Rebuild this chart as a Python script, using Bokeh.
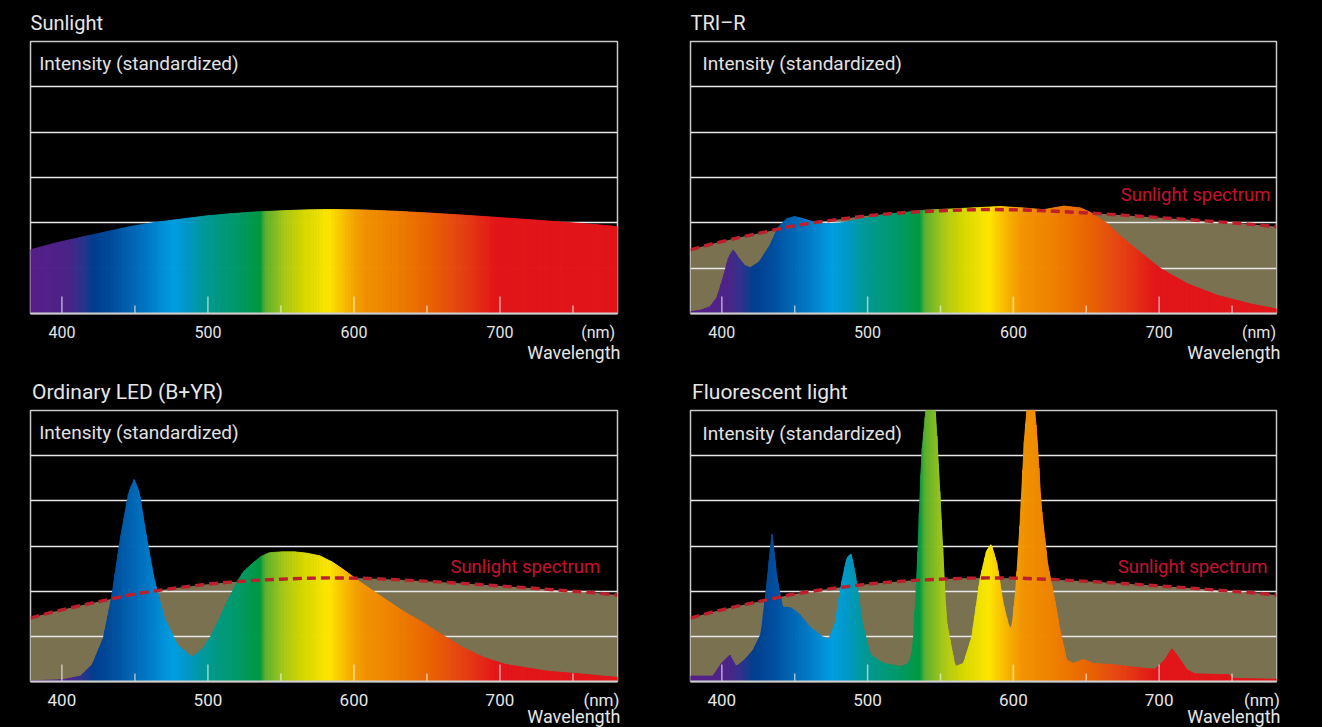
import numpy as np
from bokeh.plotting import figure
from bokeh.models import Range1d, FixedTicker, Label, Title
from bokeh.layouts import column, row
from bokeh.embed import file_html
from bokeh.resources import INLINE

# ---------------- data ----------------
wl_ticks = [400, 500, 600, 700]
wl_minor = [450, 550, 650, 750]
tick_labels = ["400", "500", "600", "700"]
unit_label = "(nm)"

titles = ["Sunlight", "TRI–R", "Ordinary LED (B+YR)", "Fluorescent light"]

sun_nm = [378.5, 395, 412.7, 430, 446.9, 464, 481, 498, 515, 532, 549.5, 566,
          583.7, 606, 629, 652, 675, 698, 720.5, 743, 766, 780.5]
sun_int = [1.405, 1.55, 1.68, 1.80, 1.92, 2.01, 2.08, 2.15, 2.20, 2.24, 2.265, 2.285,
           2.294, 2.285, 2.255, 2.215, 2.17, 2.12, 2.07, 2.015, 1.96, 1.915]

tri_nm = [378.5, 385, 392, 396.8, 401.3, 404.7, 407.8, 411, 415.6, 419.6, 425.7, 433,
          438.7, 444.5, 450, 456, 464.7, 473, 482, 496.5, 516.7, 539.8, 560, 591,
          606, 620.7, 634.7, 646, 653, 664.5, 673, 682.7, 701, 719.4, 740, 762.8, 780.5]
tri_int = [0.04, 0.07, 0.15, 0.36, 0.84, 1.24, 1.405, 1.25, 1.06, 1.01, 1.14, 1.5,
           1.91, 2.09, 2.14, 2.09, 2.0, 1.98, 2.0, 2.09, 2.2, 2.28, 2.31, 2.36,
           2.33, 2.29, 2.37, 2.33, 2.23, 1.98, 1.72, 1.46, 0.99, 0.655, 0.40, 0.21, 0.10]

led_nm = [378.5, 401, 412.7, 421, 428.5, 434, 440, 445.8, 449.5, 453, 457.3, 463,
          470, 479, 489, 496, 502, 507.7, 513.4, 519, 524, 530.7, 536.5, 542, 550,
          559.5, 568, 576.8, 585.4, 594, 602.7, 617, 634, 646, 660, 674.7, 689,
          703.5, 732, 761, 780.5]
led_int = [0.015, 0.04, 0.12, 0.38, 0.97, 1.85, 3.16, 4.19, 4.47, 4.19, 3.31, 2.29,
           1.41, 0.82, 0.54, 0.71, 1.00, 1.38, 1.78, 2.14, 2.42, 2.62, 2.77, 2.85, 2.87,
           2.87, 2.84, 2.78, 2.64, 2.45, 2.24, 1.92, 1.55, 1.33, 1.04, 0.75, 0.53,
           0.38, 0.23, 0.15, 0.09]

flu_nm = [378.5, 394, 399.7, 405.5, 409.8, 415.6, 421.4, 427, 430.6, 434.4, 437.8,
          441.6, 447.4, 453, 460.4, 469, 473.3, 477.7, 482, 485.8, 488.7, 492, 496.4,
          502, 511, 522.4, 528, 531, 534, 537, 543.5, 547, 550, 554, 560, 565.8,
          571.5, 577.3, 581.6, 584.8, 588.8, 593, 597, 599, 601.8, 604.7, 607.6, 612,
          616.3, 619, 623.5, 628, 632, 636.5, 641, 648, 655, 669.7, 684, 697, 704,
          708.7, 713, 719, 724.6, 747.7, 750.6, 780.5]
flu_int = [0.12, 0.12, 0.40, 0.585, 0.33, 0.48, 0.69, 1.06, 2.08, 3.29, 2.30,
           1.65, 1.63, 1.50, 1.21, 0.99, 0.93, 1.28, 2.16, 2.74, 2.83, 2.30, 1.28,
           0.585, 0.40, 0.33, 0.40, 0.69, 2.45, 5.0, 7.2, 5.74, 3.9, 1.35, 0.33, 0.40,
           0.99, 2.30, 2.89, 3.04, 2.60, 1.72, 1.21, 1.17, 2.08, 3.55, 5.38, 7.0,
           5.38, 3.9, 2.6, 1.87, 1.13, 0.48, 0.40, 0.49, 0.40, 0.37, 0.31, 0.27, 0.48,
           0.73, 0.55, 0.26, 0.17, 0.15, 0.07, 0.05]

# ---------------- styles ----------------
XMIN, XMAX = 378.5, 780.5
YMAX = 6
GRID_Y = [1, 2, 3, 4, 5]
BROWN = "#7a7150"
DASH_RED = "#bd1f2c"
LABEL_RED = "#c8102e"
TXT = "#e6e6e6"
FONT = "Roboto"

SPEC_NM = [378, 405, 415, 421.6, 435.4, 458, 476, 488, 497, 506, 520, 536, 539.5,
           551.7, 565, 579, 583.7, 595, 606, 629, 652, 665.8, 679.5, 693, 698, 781]
SPEC_COL = ["#5a1f8b", "#4c2589", "#2a368d", "#023e8f", "#004f9f", "#0078c5", "#009fe3",
            "#0098c2", "#009a9c", "#009a85", "#009a6a", "#009a42", "#5cb030",
            "#a6c81a", "#d5d800", "#f5e400", "#ffe600", "#f8b800", "#f39600",
            "#ef8000", "#ea6500", "#e85010", "#e53a14", "#e41f18", "#e3161a", "#e3161a"]


def hex2rgb(h):
    return [int(h[i:i + 2], 16) for i in (1, 3, 5)]


_rgb = np.array([hex2rgb(c) for c in SPEC_COL], dtype=float)


def color_at(nm):
    r = np.interp(nm, SPEC_NM, _rgb[:, 0])
    g = np.interp(nm, SPEC_NM, _rgb[:, 1])
    b = np.interp(nm, SPEC_NM, _rgb[:, 2])
    return "#%02x%02x%02x" % (int(round(r)), int(round(g)), int(round(b)))


def rainbow_area(p, nm, vals, step=1.0):
    edges = np.arange(XMIN, XMAX + step * 0.5, step)
    if edges[-1] < XMAX:
        edges = np.append(edges, XMAX)
    tops = np.interp(edges, nm, vals)
    xs, ys, cols = [], [], []
    for i in range(len(edges) - 1):
        x0, x1 = edges[i], edges[i + 1]
        xs.append([x0, x1, x1, x0])
        ys.append([0, 0, tops[i + 1], tops[i]])
        cols.append(color_at(0.5 * (x0 + x1)))
    p.patches(xs, ys, fill_color=cols, line_color=cols, line_width=0.9)


def make_panel(idx, width, height, bl, br, bt, bb, spec, show_sun, lay):
    fh = height - bt - bb
    k = YMAX / fh
    p = figure(width=width, height=height, output_backend="svg", toolbar_location=None,
               x_range=Range1d(XMIN, XMAX), y_range=Range1d(0, YMAX),
               min_border_left=bl, min_border_right=br, min_border_top=bt,
               min_border_bottom=bb, background_fill_color="black",
               border_fill_color="black")
    p.outline_line_color = "#c8c8c8"
    p.outline_line_width = 1.5
    p.xgrid.visible = False
    p.ygrid.visible = False
    p.yaxis.visible = False

    # panel title
    p.title.text = titles[idx]
    p.title.align = "left"
    p.title.offset = lay["title_dx"]
    p.title.standoff = lay["title_standoff"]
    p.title.text_font = FONT
    p.title.text_font_style = "normal"
    p.title.text_font_size = lay["title_size"]
    p.title.text_color = TXT

    ax = p.xaxis[0]
    ax.ticker = FixedTicker(ticks=wl_ticks + [lay["nm_pos"]], minor_ticks=[])
    ov = {t: l for t, l in zip(wl_ticks, tick_labels)}
    ov[lay["nm_pos"]] = unit_label
    ax.major_label_overrides = ov
    ax.major_tick_in = 0
    ax.major_tick_out = 0
    ax.minor_tick_in = 0
    ax.minor_tick_out = 0
    ax.major_tick_line_color = None
    ax.minor_tick_line_color = None
    ax.axis_line_color = "#d0d0d0"
    ax.axis_line_width = 2
    ax.major_label_text_color = TXT
    ax.major_label_text_font = FONT
    ax.major_label_text_font_size = lay["tick_size"]
    ax.major_label_standoff = lay["tick_standoff"]

    p.add_layout(Title(text="Wavelength", align="right", vertical_align="top",
                       offset=lay["wl_dx"], standoff=lay["wl_standoff"], text_font=FONT,
                       text_font_style="normal", text_font_size="18px",
                       text_color=TXT), "below")

    if show_sun:
        p.varea(x=sun_nm, y1=0, y2=sun_int, fill_color=BROWN)
    p.hspan(y=GRID_Y, line_color="#e8e8e8", line_width=1.4)
    rainbow_area(p, spec[0], spec[1])
    # tick marks drawn inside the frame
    p.segment(x0=wl_ticks, y0=0, x1=wl_ticks, y1=17 * k, line_color="white",
              line_alpha=0.6, line_width=1.5)
    p.segment(x0=wl_minor, y0=0, x1=wl_minor, y1=8 * k, line_color="white",
              line_alpha=0.6, line_width=1.5)
    if show_sun:
        p.line(sun_nm, sun_int, line_color=DASH_RED, line_width=3.4, line_dash="9 5")

    def lab(text, x, dx, ypx, size, color=TXT, align="left"):
        p.add_layout(Label(x=x, y=ypx * k, x_offset=dx, text=text, text_font=FONT,
                           text_font_size=size, text_color=color, text_align=align,
                           text_baseline="alphabetic"))

    lab("Intensity (standardized)", XMIN, lay["int_dx"], fh - lay["int_down"], "19px",
        "#e2e2e2")
    if show_sun:
        lab("Sunlight spectrum", XMAX, lay["ss_dx"], lay["ss_up"], "18.5px", LABEL_RED,
            "right")
    return p


lay1 = dict(title_dx=0, title_standoff=14, title_size="20px", int_dx=8.7, int_down=22,
            ss_dx=-6, ss_up=119, nm_pos=767.3, tick_size="16px", tick_standoff=9,
            wl_dx=-3, wl_standoff=-6)
lay2 = dict(title_dx=0, title_standoff=14, title_size="20px", int_dx=12, int_down=22.3,
            ss_dx=-6, ss_up=119, nm_pos=768.5, tick_size="16px", tick_standoff=9,
            wl_dx=-4, wl_standoff=-6)
lay3 = dict(title_dx=1.5, title_standoff=14, title_size="21px", int_dx=8.7, int_down=21.7,
            ss_dx=-17.3, ss_up=115.3, nm_pos=769.5, tick_size="17px", tick_standoff=8,
            wl_dx=-3, wl_standoff=-14)
lay4 = dict(title_dx=1.6, title_standoff=14, title_size="21px", int_dx=12, int_down=22.7,
            ss_dx=-9, ss_up=115.3, nm_pos=770.5, tick_size="17px", tick_standoff=8,
            wl_dx=-4, wl_standoff=-14)

p1 = make_panel(0, 668, 370, 30, 51, 41, 57, (sun_nm, sun_int), False, lay1)
p2 = make_panel(1, 654, 370, 22, 46, 41, 57, (tri_nm, tri_int), True, lay2)
p3 = make_panel(2, 668, 357, 30, 51, 38, 46, (led_nm, led_int), True, lay3)
p4 = make_panel(3, 654, 357, 22, 46, 38, 46, (flu_nm, flu_int), True, lay4)

layout = column(row(p1, p2), row(p3, p4))

html = file_html(layout, INLINE)
html = html.replace("</head>", "<style>html,body{background:#000000;overflow:hidden;}"
                    "</style></head>", 1)
open("out.html", "w").write(html)
